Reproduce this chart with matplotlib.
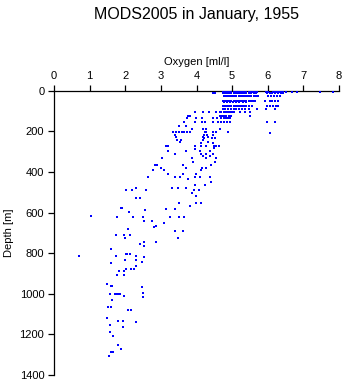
import matplotlib
matplotlib.use("Agg")
import matplotlib.pyplot as plt

plt.rcParams['font.family'] = ['Liberation Sans', 'DejaVu Sans']

title = "MODS2005 in January, 1955"
x_label = "Oxygen [ml/l]"
y_label = "Depth [m]"
x_ticks = [0, 1, 2, 3, 4, 5, 6, 7, 8]
y_ticks = [0, 200, 400, 600, 800, 1000, 1200, 1400]

# depth levels [m] and the oxygen readings [ml/l] seen at each level
levels = [4, 12, 25, 50, 54, 74, 90, 103, 125, 136, 153, 172, 189, 202, 210,
          218, 227, 235, 243, 251, 259, 273, 284, 287, 297, 312, 322, 330,
          350, 366, 379, 391, 412, 424, 435, 452, 465, 478, 489, 502, 517,
          529, 555, 568, 576, 583, 588, 598, 617, 622, 642, 653, 665, 673,
          683, 692, 713, 726, 746, 756, 764, 780, 802, 812, 821, 833, 846,
          849, 861, 880, 890, 910, 950, 960, 969, 994, 1000, 1010, 1014, 1030,
          1063, 1080, 1120, 1133, 1140, 1153, 1162, 1188, 1209, 1253, 1270,
          1285, 1306]

oxygen_by_level = [
    [4.74, 4.8, 4.86, 4.92, 4.98, 5.04, 5.1, 5.16, 5.22, 5.28, 5.34, 5.4,
     5.46, 5.52, 5.58, 5.64, 5.7, 5.96, 6.02, 6.14, 6.2, 6.26, 6.32, 6.38,
     6.44, 6.52, 6.68, 6.82, 7.48, 7.83],
    [4.46, 4.52, 4.74, 4.8, 4.86, 4.92, 4.98, 5.04, 5.1, 5.16, 5.22, 5.28,
     5.34, 5.4, 5.46, 5.52, 5.6, 5.68, 5.98, 6.05, 6.12, 6.2, 6.28, 6.36,
     6.44],
    [4.76, 4.82, 4.88, 4.94, 5.0, 5.06, 5.12, 5.18, 5.24, 5.3, 5.36, 5.42,
     5.48, 5.54, 5.6, 5.67, 5.73, 6.02, 6.1, 6.18, 6.26, 6.33],
    [4.74, 4.8, 4.86, 4.92, 4.98, 5.04, 5.1, 5.16, 5.22, 5.28, 5.34, 5.4,
     5.46, 5.52, 5.58, 5.63, 5.92, 6.05, 6.13, 6.21, 6.29],
    [4.78, 4.86, 4.94, 5.02, 5.12, 5.2, 5.3, 5.38],
    [4.74, 4.8, 4.86, 4.92, 4.98, 5.04, 5.1, 5.16, 5.22, 5.28, 5.34, 5.4,
     5.46, 5.55, 5.98, 6.06, 6.14, 6.22, 6.29],
    [4.74, 4.8, 4.88, 4.96, 5.04, 5.12, 5.2, 5.28, 5.36, 5.46, 5.7, 5.96,
     6.19],
    [3.95, 4.18, 4.35, 4.56, 4.65, 4.7, 4.76, 4.82, 4.88, 4.94, 5.0, 5.06,
     5.21, 5.35, 5.51],
    [3.81, 3.77, 4.65, 4.71, 4.77, 4.83, 4.9, 4.96, 5.51],
    [3.73, 3.99, 4.16, 4.46, 4.57, 4.7, 4.76, 4.82, 4.88, 4.94],
    [3.64, 3.97, 4.16, 4.24, 4.46, 4.6, 4.7, 4.78, 4.86, 4.94, 5.98, 6.2],
    [3.51, 3.7],
    [3.88, 4.18, 4.27, 4.65],
    [3.34, 3.42, 3.5, 3.58, 3.66, 3.74, 3.81, 4.23, 4.28, 4.46, 4.56, 4.88],
    [6.05],
    [3.39, 4.21, 4.3, 4.46],
    [3.42, 4.18, 4.32],
    [4.21, 4.44, 4.53],
    [3.44, 3.57, 4.18],
    [3.55, 4.32],
    [4.13, 4.46],
    [3.15, 3.2, 3.95, 4.13, 4.27, 4.49, 4.56, 4.62],
    [4.49],
    [3.95],
    [3.2, 3.71, 4.09, 4.37],
    [3.4, 4.13, 4.26, 4.46],
    [4.18, 4.37],
    [3.04, 3.86, 4.26, 4.56],
    [3.9, 4.51],
    [2.83, 2.88, 3.62, 4.42],
    [2.99, 3.71, 4.16, 4.27],
    [2.78, 3.1, 4.12],
    [3.2, 3.62, 3.99],
    [2.64, 3.39, 3.53, 3.97, 4.11, 4.37],
    [3.76],
    [4.42],
    [3.95, 4.24],
    [2.3, 3.32, 3.48, 3.71],
    [2.03, 2.18, 2.59, 3.93, 4.06],
    [3.86],
    [3.98],
    [2.3, 2.4],
    [3.51, 3.98, 4.14],
    [3.82],
    [1.87, 1.9],
    [3.13, 3.4],
    [2.55],
    [2.1],
    [1.04],
    [1.77, 2.22, 2.5, 3.25, 3.51, 3.64],
    [2.52, 2.76],
    [3.09],
    [2.85],
    [2.81],
    [2.08],
    [3.39, 3.62],
    [1.75, 1.96, 2.12],
    [1.99, 3.48],
    [2.54, 2.87],
    [2.4],
    [2.54],
    [1.61, 1.59],
    [2.01, 2.06, 2.12],
    [2.29, 0.7, 1.75],
    [2.53],
    [1.99, 2.29],
    [2.46],
    [1.59],
    [2.29],
    [2.03, 2.17, 2.24],
    [1.82, 1.97],
    [1.77, 1.96],
    [1.49],
    [1.6, 1.64],
    [2.47],
    [2.5],
    [1.56, 1.7, 1.75, 1.8, 1.85],
    [1.96],
    [2.5],
    [1.63],
    [1.52, 1.59],
    [2.07, 2.16],
    [1.49],
    [1.8, 1.94],
    [2.31],
    [1.57],
    [1.94],
    [1.57],
    [1.66],
    [1.8],
    [1.88],
    [1.66, 1.59],
    [1.54],
]

ox = []
dep = []
for d, vals in zip(levels, oxygen_by_level):
    for v in vals:
        ox.append(v)
        dep.append(d)

fig = plt.figure(figsize=(3.45, 3.84), dpi=100)
ax = fig.add_axes([54 / 345, 1 - 375 / 384, 285 / 345, 284.3 / 384])

ax.plot(ox, dep, linestyle="none", marker="s", markersize=2.05,
        color="#0000ff", markeredgewidth=0, clip_on=False, zorder=3,
        antialiased=False)

ax.set_xlim(0, 8)
ax.set_ylim(1400, 0)
ax.set_xticks(x_ticks)
ax.set_yticks(y_ticks)
ax.xaxis.tick_top()
ax.xaxis.set_label_position("top")
ax.set_xlabel(x_label, fontsize=8, labelpad=4)
ax.set_ylabel(y_label, fontsize=8, labelpad=4)
ax.tick_params(axis="both", direction="out", length=4, width=0.9,
               labelsize=8, pad=3)
for side in ["right", "bottom"]:
    ax.spines[side].set_visible(False)
for side in ["top", "left"]:
    ax.spines[side].set_linewidth(0.9)

fig.text(196.5 / 345, 1 - 15 / 384, title, ha="center", va="center",
         fontsize=11.5)

fig.savefig("out.png", dpi=100)
